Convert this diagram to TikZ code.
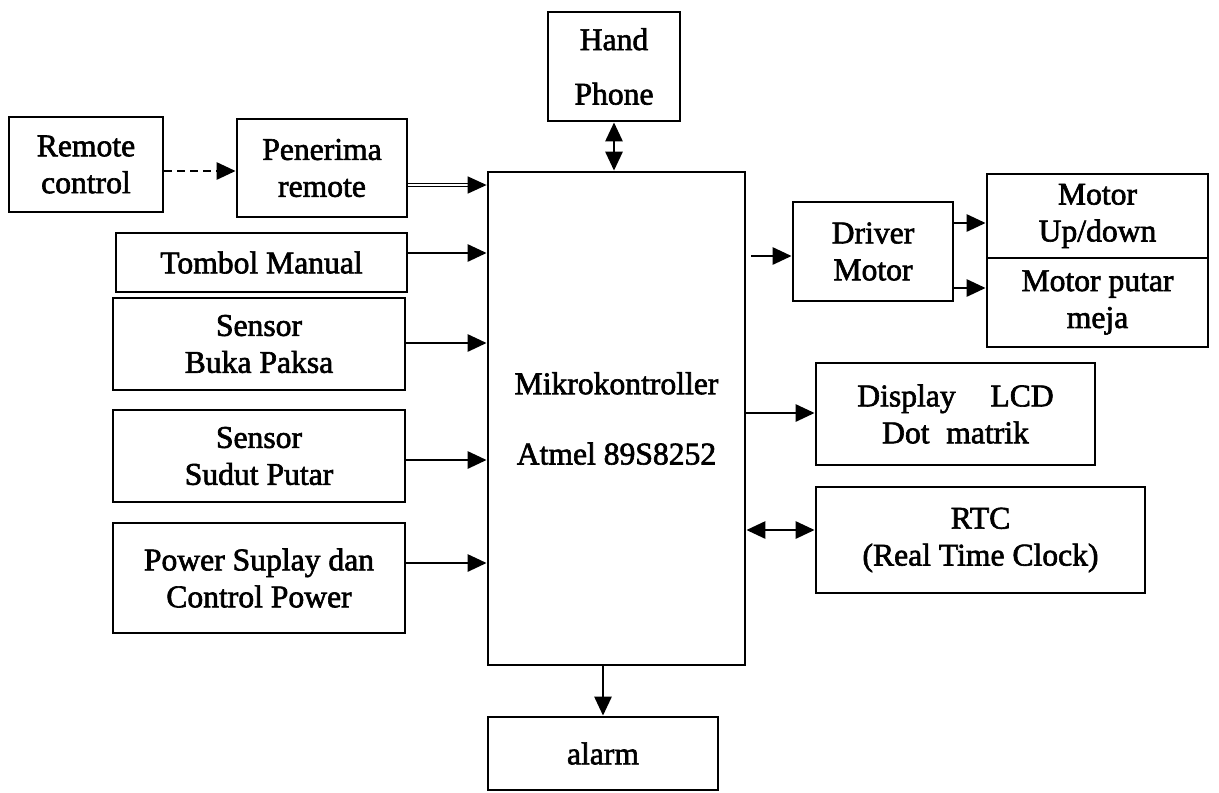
\documentclass[tikz,border=0pt]{standalone}
\usepackage{fontspec}
\setmainfont{Liberation Serif}
\newfontfamily\scanfont{Liberation Serif}[FakeBold=2]
\usepackage{tikz}
\usetikzlibrary{arrows.meta}

\begin{document}
\begin{tikzpicture}[x=0.02cm,y=-0.02cm,
  blok/.style={draw,line width=1.6pt,align=center,inner sep=0pt,font=\scanfont\fontsize{18}{21}\selectfont},
  arr/.style={line width=1.6pt,-{Triangle[length=0.38cm,width=0.34cm]}},
  arrboth/.style={line width=1.6pt,{Triangle[length=0.38cm,width=0.34cm]}-{Triangle[length=0.38cm,width=0.34cm]}}]
  \useasboundingbox (0,0) rectangle (1219,792);
  % masukan
  \node[blok,minimum width=3.08cm,minimum height=1.9cm] (remote) at (86,164.5) {Remote\\control};
  \node[blok,minimum width=3.4cm,minimum height=1.96cm] (penerima) at (322,168) {Penerima\\remote};
  \node[blok,minimum width=5.82cm,minimum height=1.18cm] (tombol) at (261.5,262.5) {Tombol Manual};
  \node[blok,minimum width=5.84cm,minimum height=1.84cm] (buka) at (259,344) {Sensor\\Buka Paksa};
  \node[blok,minimum width=5.84cm,minimum height=1.84cm] (sudut) at (259,456) {Sensor\\Sudut Putar};
  \node[blok,minimum width=5.84cm,minimum height=2.2cm] (power) at (259,578) {Power Suplay dan\\Control Power};
  % pusat
  \node[blok,minimum width=2.64cm,minimum height=2.18cm] (hp) at (614,66.5) {Hand\\[10pt]Phone};
  \node[blok,minimum width=5.14cm,minimum height=9.86cm] (mikro) at (616.5,418.5) {Mikrokontroller\\[19pt]Atmel 89S8252};
  \node[blok,minimum width=4.6cm,minimum height=1.46cm] (alarm) at (603,753.5) {alarm};
  % keluaran
  \node[blok,minimum width=3.2cm,minimum height=1.98cm] (driver) at (873,251.5) {Driver\\Motor};
  \node[blok,minimum width=4.42cm,minimum height=1.68cm] (motorud) at (1097.5,216) {Motor\\Up/down};
  \node[blok,minimum width=4.42cm,minimum height=1.78cm] (motorputar) at (1097.5,302.5) {Motor putar\\meja};
  \node[blok,minimum width=5.58cm,minimum height=2.04cm] (display) at (955.5,414) {Display\hspace{0.85em} LCD\\Dot\hspace{0.28em} matrik};
  \node[blok,minimum width=6.58cm,minimum height=2.12cm] (rtc) at (980.5,540) {RTC\\(Real Time Clock)};

  \draw[arr,dash pattern=on 0.16cm off 0.1cm] (remote.east |- 0,171) -- (penerima.west |- 0,171);
  \draw[arr,double,double distance=0.8pt,line width=0.9pt] (penerima.east |- 0,185) -- (mikro.west |- 0,185);
  \foreach \n/\y in {tombol/253,buka/343,sudut/460,power/563}
    \draw[arr] (\n.east |- 0,\y) -- (mikro.west |- 0,\y);
  \draw[arrboth] (hp.south) -- (hp.south |- mikro.north);
  \draw[arr] (alarm.north |- mikro.south) -- (alarm.north);
  \draw[arr,shorten <=0.1cm] (mikro.east |- 0,256) -- (driver.west |- 0,256);
  \draw[arr] (driver.east |- 0,223) -- (motorud.west |- 0,223);
  \draw[arr] (driver.east |- 0,288) -- (motorputar.west |- 0,288);
  \draw[arr] (mikro.east |- 0,413) -- (display.west |- 0,413);
  \draw[arrboth] (mikro.east |- 0,530) -- (rtc.west |- 0,530);
\end{tikzpicture}
\end{document}
